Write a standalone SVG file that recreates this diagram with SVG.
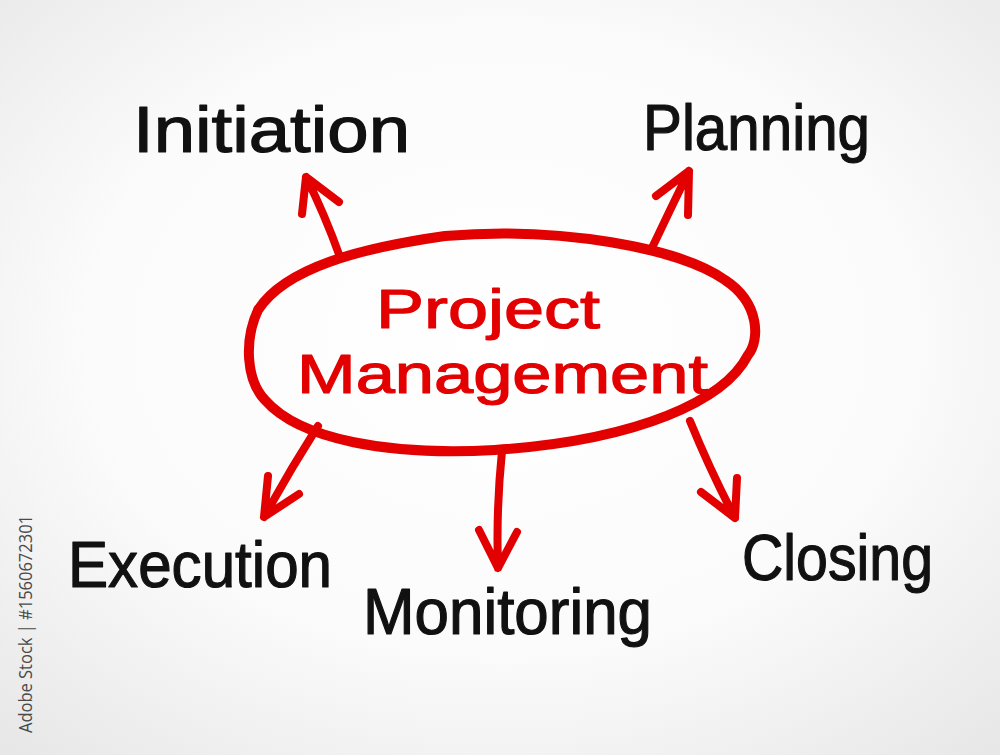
<svg xmlns="http://www.w3.org/2000/svg" width="1000" height="755" viewBox="0 0 1000 755">
<defs>
<radialGradient id="bg" cx="0.5" cy="0.45" r="0.75">
<stop offset="0" stop-color="#ffffff"/>
<stop offset="0.55" stop-color="#fbfbfb"/>
<stop offset="1" stop-color="#e6e6e6"/>
</radialGradient>
<style>
.lbl{font-family:"Liberation Sans","DejaVu Sans",sans-serif;font-size:64px;fill:#111;stroke:#111;stroke-width:1.2;stroke-linejoin:round}
.red{fill:#e30000;stroke:#e30000;font-size:56px}
.ln{fill:none;stroke:#e30000;stroke-width:8;stroke-linecap:round;stroke-linejoin:round}
.wm{font-family:"Open Sans","DejaVu Sans",sans-serif;font-size:19px;fill:#4a4a4a}
</style>
</defs>
<rect width="1000" height="755" fill="url(#bg)"/>
<text class="wm" transform="translate(32,733) rotate(-90)" textLength="218" lengthAdjust="spacingAndGlyphs">Adobe Stock | #1560672301</text>
<g id="connectors">
<path class="ln" d="M340,257 Q325,215 306,177 M302,214 L306,177 L339,202"/>
<path class="ln" d="M651,250 Q670,210 689,171 M656,196 L689,171 L688,215"/>
<path class="ln" d="M318,426 Q290,470 264,517 M268,476 L264,517 L299,494"/>
<path class="ln" d="M502,451 Q496,510 498,568 M479,530 L498,568 L517,532"/>
<path class="ln" d="M690,421 Q710,470 735,518 M701,492 L735,518 L737,478"/>
</g>
<g id="center">
<path d="M445,236 C560,226 680,248 725,280 C760,303 760,340 748,355 C725,400 640,440 495,450 C390,456 300,440 265,400 C246,380 244,340 258,310 C285,268 360,248 445,236 Z" fill="none" stroke="#e30000" stroke-width="10"/>
<text class="lbl red" x="376" y="328" textLength="224" lengthAdjust="spacingAndGlyphs">Project</text>
<text class="lbl red" x="297" y="393" textLength="411" lengthAdjust="spacingAndGlyphs">Management</text>
</g>
<g id="initiation"><text class="lbl" x="133" y="152" textLength="277" lengthAdjust="spacingAndGlyphs">Initiation</text></g>
<g id="planning"><text class="lbl" x="643" y="150" textLength="227" lengthAdjust="spacingAndGlyphs">Planning</text></g>
<g id="execution"><text class="lbl" x="68" y="587" textLength="264" lengthAdjust="spacingAndGlyphs">Execution</text></g>
<g id="monitoring"><text class="lbl" x="363" y="634" textLength="289" lengthAdjust="spacingAndGlyphs">Monitoring</text></g>
<g id="closing"><text class="lbl" x="742" y="580" textLength="191" lengthAdjust="spacingAndGlyphs">Closing</text></g>
</svg>
